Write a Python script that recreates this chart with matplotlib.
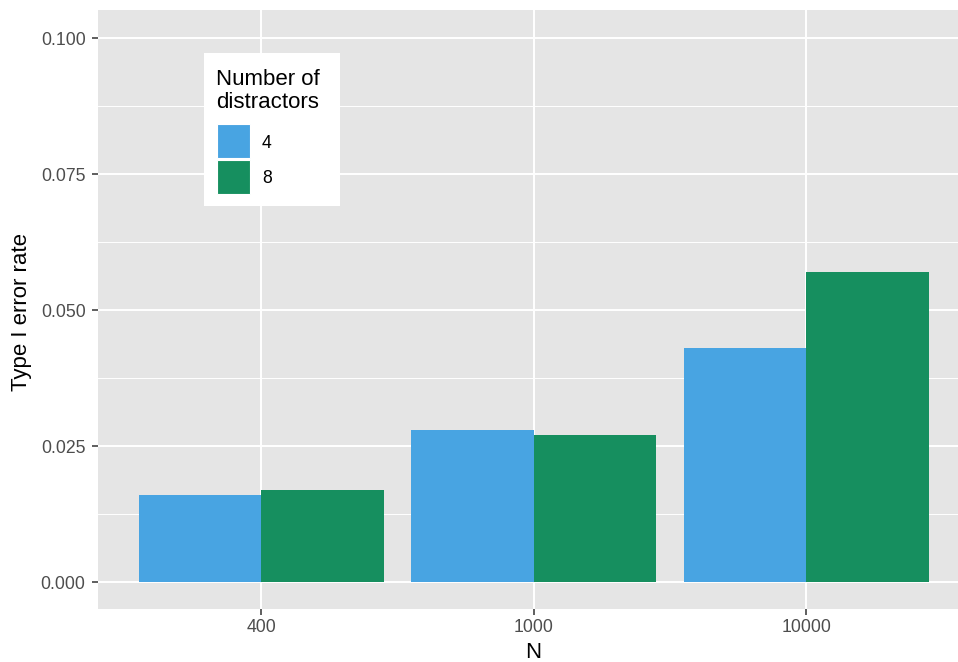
import matplotlib.pyplot as plt
from matplotlib.patches import Rectangle
import numpy as np

# data
n_labels = ["400", "1000", "10000"]
distractors = ["4", "8"]
rate_4 = [0.016, 0.028, 0.043]
rate_8 = [0.017, 0.027, 0.057]
bar_colors = ["#48A4E2", "#168F5F"]

plt.rcParams['font.family'] = ['Liberation Sans', 'DejaVu Sans']

W, H = 958, 662
fig = plt.figure(figsize=(W / 100, H / 100), dpi=100)

# panel in pixel coords (right side runs off the image like the reference)
px_l, px_r, px_t, px_b = 98, 969.5, 10, 609
ax = fig.add_axes([px_l / W, 1 - px_b / H, (px_r - px_l) / W, (px_b - px_t) / H])
ax.set_facecolor("#E5E5E5")
for s in ax.spines.values():
    s.set_visible(False)

x = np.arange(len(n_labels)) + 1
width = 0.45
ax.bar(x - width / 2, rate_4, width, color=bar_colors[0], zorder=3)
ax.bar(x + width / 2, rate_8, width, color=bar_colors[1], zorder=3)

ax.set_xlim(0.4, 3.6)
ax.set_ylim(-0.00496, 0.10515)
yt = [0, 0.025, 0.05, 0.075, 0.1]
ax.set_yticks(yt)
ax.set_yticklabels(["0.000", "0.025", "0.050", "0.075", "0.100"])
ax.set_yticks([0.0125, 0.0375, 0.0625, 0.0875], minor=True)
ax.set_xticks(x)
ax.set_xticklabels(n_labels)

ax.grid(True, which="major", color="white", linewidth=1.4, zorder=1)
ax.grid(True, which="minor", axis="y", color="white", linewidth=0.7, zorder=1)
ax.set_axisbelow(True)
ax.tick_params(axis="both", which="major", length=4, width=1.1, color="#333333",
               labelcolor="#4D4D4D", labelsize=12.7)
ax.tick_params(axis="y", pad=5)
ax.tick_params(axis="x", pad=3)
ax.tick_params(axis="both", which="minor", length=0)


def fx(px):
    return px / W


def fy(py):
    return 1 - py / H


# axis titles placed in pixel terms
fig.text(fx(533), fy(658), "N", fontsize=16, ha="center", va="baseline")
fig.text(fx(22), fy(312), "Type I error rate", fontsize=16, rotation=90,
         ha="center", va="center")

# legend box drawn by hand, ggplot style
fig.patches.append(Rectangle((fx(204), fy(206)), fx(340) - fx(204), fy(53) - fy(206),
                             transform=fig.transFigure, facecolor="white",
                             edgecolor="none", zorder=5))
fig.text(fx(216), fy(85), "Number of", fontsize=16, va="baseline", ha="left", zorder=6)
fig.text(fx(216), fy(108), "distractors", fontsize=16, va="baseline", ha="left", zorder=6)
key_tops = [124, 160]
label_base = [148, 183]
for lab, col, kt, lb in zip(distractors, bar_colors, key_tops, label_base):
    fig.patches.append(Rectangle((fx(217), fy(kt + 34)), fx(250) - fx(217), fy(kt) - fy(kt + 34),
                                 transform=fig.transFigure, facecolor=col,
                                 edgecolor="white", linewidth=0.8, zorder=6))
    fig.text(fx(262), fy(lb), lab, fontsize=12.7, va="baseline", ha="left", zorder=6)

fig.savefig("out.png", dpi=100)
